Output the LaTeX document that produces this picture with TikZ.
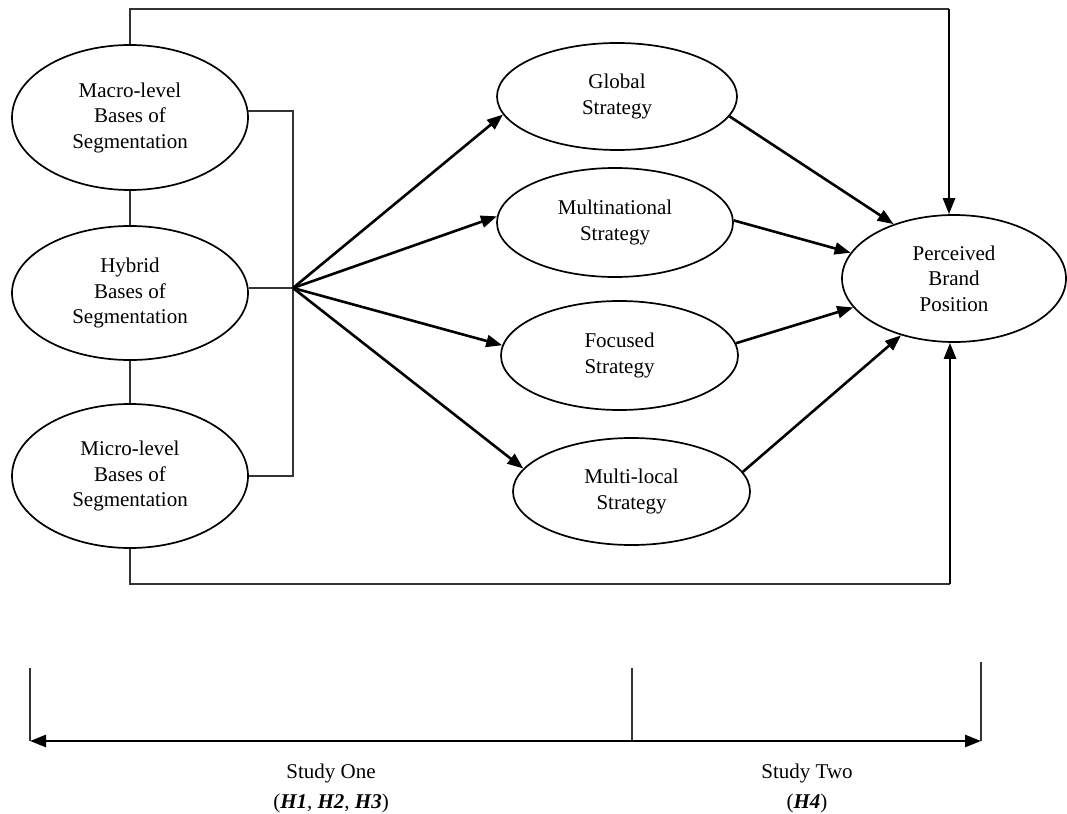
\documentclass[tikz,border=0pt]{standalone}
\usepackage{fontspec}
\setmainfont{Liberation Serif}
\usetikzlibrary{shapes.geometric,arrows.meta}
\begin{document}
\begin{tikzpicture}[x=1pt,y=-1pt,
  ell/.style={ellipse,draw=black,line width=1.7pt,inner sep=0pt,align=center,
    font=\fontsize{21}{25.5}\selectfont},
  plain/.style={draw=black!80,line width=2pt},
  arr/.style={draw=black,line width=2.6pt,-{Triangle[length=16pt,width=12pt]}},
  tick/.style={draw=black!80,line width=1.6pt},
  lbl/.style={align=center,font=\fontsize{21}{30}\selectfont}
]
\useasboundingbox (0,0) rectangle (1067,813);
% left ellipses
\node[ell,minimum width=236pt,minimum height=145pt] (ma) at (130,117.5) {Macro-level\\Bases of\\Segmentation};
\node[ell,minimum width=236pt,minimum height=134pt] (hy) at (130,293) {Hybrid\\Bases of\\Segmentation};
\node[ell,minimum width=236pt,minimum height=144pt] (mi) at (130,476) {Micro-level\\Bases of\\Segmentation};
% strategies
\node[ell,minimum width=240pt,minimum height=107pt] (g) at (617,96.5) {Global\\Strategy};
\node[ell,minimum width=236pt,minimum height=109pt] (mn) at (615,222.5) {Multinational\\Strategy};
\node[ell,minimum width=237pt,minimum height=109pt] (f) at (619.5,355.5) {Focused\\Strategy};
\node[ell,minimum width=237pt,minimum height=107pt] (ml) at (631.5,491.5) {Multi-local\\Strategy};
% outcome
\node[ell,minimum width=224pt,minimum height=127pt] (p) at (954,278.5) {Perceived\\Brand\\Position};
% coordinates
\coordinate (hub) at (293,288);
\coordinate (tr) at (949,9);
\coordinate (brc) at (950,584);
% left connectors
\draw[plain] (ma.south) -- (hy.north);
\draw[plain] (hy.south) -- (mi.north);
\draw[plain] (ma.3.5) -| (hub);
\draw[plain] (mi.east) -| (hub);
\draw[plain] (hy.east |- hub) -- (hub);
% hub arrows
\draw[arr] (hub) -- (g.189);
\draw[arr] (hub) -- (mn.177);
\draw[arr] (hub) -- (f.175);
\draw[arr] (hub) -- (ml.168);
% strategy to outcome
\draw[arr] (g.-10) -- (p.138);
\draw[arr] (mn.1) -- (p.166);
\draw[arr] (f.6) -- (p.196);
\draw[arr] (ml.10) -- (p.227);
% top and bottom paths
\draw[plain] (ma.north) |- (tr);
\draw[arr] (tr) -- (p.north -| tr);
\draw[plain] (mi.south) |- (brc);
\draw[arr] (brc) -- (p.south -| brc);
% timeline
\coordinate (tl) at (30,668);
\coordinate (tlb) at (30,741);
\coordinate (tm) at (632,668);
\coordinate (tmb) at (632,741);
\coordinate (tt) at (981,662);
\coordinate (ttb) at (981,741);
\draw[tick] (tl) -- (tlb);
\draw[tick] (tm) -- (tmb);
\draw[tick] (tt) -- (ttb);
\draw[draw=black,line width=2.6pt,{Triangle[length=16pt,width=12pt]}-{Triangle[length=16pt,width=12pt]}] (tlb) -- (ttb);
\node[lbl] (s1) at (331,788) {Study One\\(\textbf{\textit{H1}}, \textbf{\textit{H2}}, \textbf{\textit{H3}})};
\node[lbl] (s2) at (807,788) {Study Two\\(\textbf{\textit{H4}})};
\end{tikzpicture}
\end{document}
